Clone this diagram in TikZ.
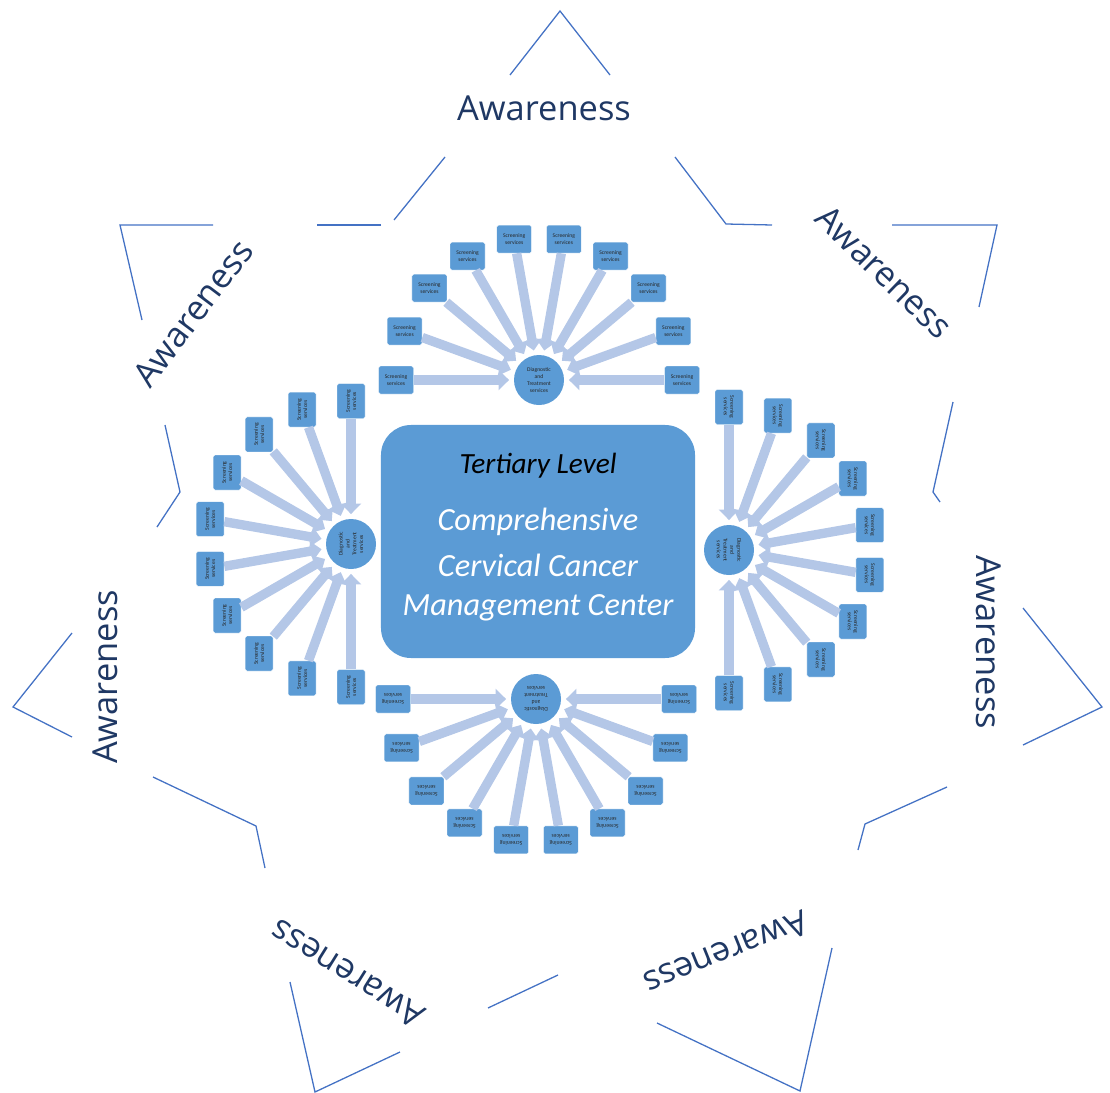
\documentclass[tikz,border=0pt]{standalone}
\usepackage{fontspec}
\setmainfont{Carlito}
\newfontfamily\awfont{Open Sans}
\usetikzlibrary{arrows.meta}
\definecolor{starblue}{HTML}{4472C4}
\definecolor{navy}{HTML}{1F3864}
\definecolor{boxblue}{HTML}{5B9BD5}
\definecolor{arrblue}{HTML}{B4C7E7}
\newcommand\mycluster[4]{%
\begin{scope}[shift={(#2,#3)}, rotate=#4, transform shape]
 \node[diag] (#1c) at (0,0) {Diagnostic\\and\\Treatment\\services};
 \foreach \k in {0,...,9}{
   \node[scr] (#1b\k) at ({-20*\k}:143) {Screening\\services};
   \draw[farrow] (#1b\k) -- (#1c);
 }
\end{scope}}
\begin{document}
\begin{tikzpicture}[x=0.03cm,y=-0.03cm,
  starline/.style={draw=starblue, line width=1.1pt, line join=miter},
  aware/.style={font=\awfont\fontsize{29.4}{32}\selectfont, text=navy, inner sep=0pt},
  scr/.style={fill=boxblue, draw=white, line width=0.3pt, rounded corners=1.5pt, minimum width=1.05cm, minimum height=0.84cm, inner sep=0pt, align=center, font=\fontsize{4.8}{5.4}\selectfont, text=black!85},
  diag/.style={circle, fill=boxblue, minimum size=1.5cm, inner sep=0pt, align=center, font=\fontsize{4.8}{5.8}\selectfont, text=black!85},
  farrow/.style={draw=arrblue, line width=8pt, -{Triangle[width=17pt,length=9pt]}, shorten >=4pt},
  ctext/.style={font=\itshape\fontsize{27.6}{30}\selectfont, text=white, inner sep=0pt}
]
\useasboundingbox (0,0) rectangle (1110,1093);

% star outline (7-pointed, broken by labels)
\draw[starline] (510,75)--(560,11)--(610,75);
\draw[starline] (445,157)--(394,220);
\draw[starline] (381,225)--(317,225);
\draw[starline] (675,157)--(726,224)--(772,225);
\draw[starline] (892,225)--(997,225)--(979,307);
\draw[starline] (953,402)--(933,492)--(940,502);
\draw[starline] (1023,608)--(1102,707)--(1023,745);
\draw[starline] (947,787)--(865,824)--(858,850);
\draw[starline] (832,948)--(800,1091)--(657,1023);
\draw[starline] (558,975)--(488,1008);
\draw[starline] (400,1052)--(315,1092)--(290,982);
\draw[starline] (265,868)--(256,826)--(153,777);
\draw[starline] (72,737)--(13,707)--(72,633);
\draw[starline] (157,527)--(180,492)--(165,425);
\draw[starline] (142,320)--(120,225)--(213,225);

% labels
\node[aware] (aw1) at (544,108) {Awareness};
\node[aware, rotate=-44] (aw2) at (884,272) {Awareness};
\node[aware, rotate=-90] (aw3) at (989,642) {Awareness};
\node[aware, rotate=202] (aw4) at (726,953) {Awareness};
\node[aware, rotate=148] (aw5) at (347,974) {Awareness};
\node[aware, rotate=90] (aw6) at (105,677) {Awareness};
\node[aware, rotate=53] (aw7) at (193,313) {Awareness};

% center box
\node[fill=boxblue, rounded corners=0.9cm, minimum width=9.42cm, minimum height=6.99cm] (ctr) at (538,541.5) {};
\node[font=\itshape\fontsize{25}{28}\selectfont, text=black, inner sep=0pt] (tl) at (538,466) {Tertiary Level};
\node[ctext] (c1) at (538,522) {Comprehensive};
\node[ctext] (c2) at (538,565) {Cervical Cancer};
\node[ctext] (c3) at (538,608) {Management Center};

% clusters
\mycluster{T}{539}{380}{0}
\mycluster{R}{729}{550}{-90}
\mycluster{B}{536}{699}{180}
\mycluster{L}{351}{544}{90}
\end{tikzpicture}
\end{document}
